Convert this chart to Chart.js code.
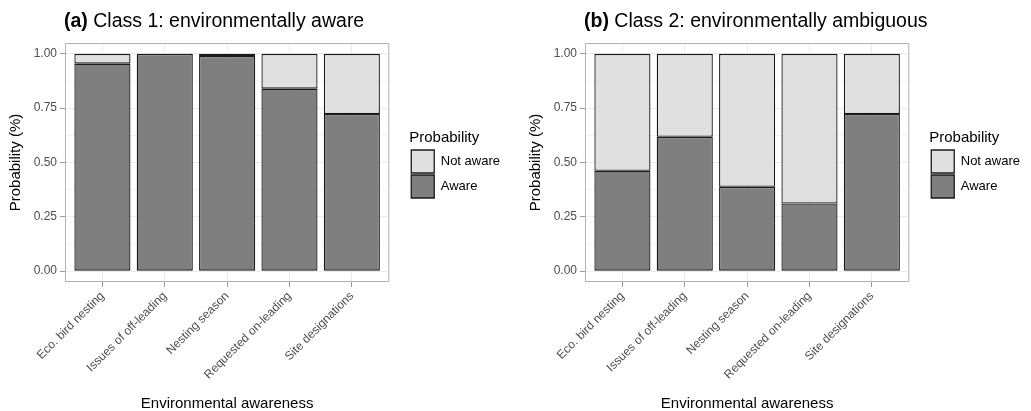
<!DOCTYPE html>
<html lang="en">
<head>
    <meta charset="UTF-8">
    <title>Environmental awareness by class</title>
    <script src="https://cdn.jsdelivr.net/npm/chart.js"></script>
    <style>
        html, body {
            margin: 0;
            padding: 0;
            background: white;
            overflow: hidden;
        }

        .figure {
            position: relative;
            width: 1031px;
            height: 411px;
            font-family: "Liberation Sans", Arial, sans-serif;
        }

        .panel {
            position: absolute;
            top: 0;
            width: 520px;
            height: 411px;
        }

        .panel-title {
            position: absolute;
            top: 8px;
            left: 64px;
            font-size: 19.5px;
            line-height: 24px;
            color: #000;
            white-space: nowrap;
        }

        .panel-title b {
            font-weight: bold;
        }
    </style>
</head>
<body>
    <div class="figure">
        <div class="panel" style="left: 0;">
            <canvas id="classOneChart" width="520" height="411"></canvas>
            <div class="panel-title"><b>(a)</b> Class 1: environmentally aware</div>
        </div>
        <div class="panel" style="left: 520px;">
            <canvas id="classTwoChart" width="520" height="411"></canvas>
            <div class="panel-title"><b>(b)</b> Class 2: environmentally ambiguous</div>
        </div>
    </div>

    <script>
        // data
        const categories = ['Eco. bird nesting', 'Issues of off-leading', 'Nesting season', 'Requested on-leading', 'Site designations'];
        const awareClass1 = [0.955, 1.0, 0.99, 0.84, 0.723];
        const notAwareClass1 = [0.045, 0.0, 0.01, 0.16, 0.277];
        const awareClass2 = [0.462, 0.618, 0.388, 0.311, 0.723];
        const notAwareClass2 = [0.538, 0.382, 0.612, 0.689, 0.277];
        const yMajorTicks = [0, 0.25, 0.5, 0.75, 1];
        const yMinorTicks = [0.125, 0.375, 0.625, 0.875];

        const FONT = '"Liberation Sans", Arial, sans-serif';

        // grey frame round the panel, like theme_bw
        const panelBorder = {
            id: 'panelBorder',
            afterDraw(chart) {
                const a = chart.chartArea;
                const ctx = chart.ctx;
                ctx.save();
                ctx.strokeStyle = '#b3b3b3';
                ctx.lineWidth = 1;
                ctx.strokeRect(a.left + 0.5, a.top + 0.5, a.right - a.left - 1, a.bottom - a.top - 1);
                ctx.restore();
            }
        };

        function makeChart(id, aware, notAware) {
            const toPoints = vals => vals.map((v, i) => ({ x: i + 1, y: v }));
            const isMajor = v => yMajorTicks.includes(v);

            return new Chart(document.getElementById(id), {
                type: 'bar',
                data: {
                    datasets: [{
                        label: 'Aware',
                        data: toPoints(aware),
                        backgroundColor: '#7f7f7f',
                        borderColor: '#1a1a1a',
                        borderWidth: 1.3,
                        borderSkipped: false,
                        barPercentage: 0.9,
                        categoryPercentage: 1
                    }, {
                        label: 'Not aware',
                        data: toPoints(notAware),
                        backgroundColor: '#e0e0e0',
                        borderColor: '#1a1a1a',
                        borderWidth: 1.3,
                        borderSkipped: false,
                        barPercentage: 0.9,
                        categoryPercentage: 1
                    }]
                },
                options: {
                    responsive: false,
                    animation: false,
                    layout: {
                        padding: { top: 43, left: 0, bottom: 0, right: 10 }
                    },
                    plugins: {
                        tooltip: { enabled: false },
                        legend: {
                            position: 'right',
                            align: 'start',
                            reverse: true,
                            maxWidth: 140,
                            labels: {
                                boxWidth: 23,
                                boxHeight: 23,
                                padding: 2,
                                color: '#000',
                                font: { family: FONT, size: 13 }
                            },
                            title: {
                                display: true,
                                text: 'Probability',
                                position: 'start',
                                color: '#000',
                                padding: { top: 87, bottom: 0 },
                                font: { family: FONT, size: 15 }
                            }
                        }
                    },
                    scales: {
                        x: {
                            type: 'linear',
                            stacked: true,
                            offset: false,
                            min: 0.4,
                            max: 5.6,
                            afterBuildTicks: scale => {
                                scale.ticks = categories.map((c, i) => ({ value: i + 1 }));
                            },
                            afterFit: scale => { scale.height = 129; },
                            ticks: {
                                autoSkip: false,
                                minRotation: 45,
                                maxRotation: 45,
                                padding: 2,
                                color: '#4d4d4d',
                                font: { family: FONT, size: 12 },
                                callback: v => categories[v - 1]
                            },
                            grid: {
                                offset: false,
                                color: '#ebebeb',
                                tickColor: '#999',
                                tickLength: 5
                            },
                            border: { display: false },
                            title: {
                                display: true,
                                text: 'Environmental awareness',
                                color: '#000',
                                padding: { top: 0, bottom: 0 },
                                font: { family: FONT, size: 15, lineHeight: 1 }
                            }
                        },
                        y: {
                            stacked: true,
                            min: -0.05,
                            max: 1.05,
                            afterBuildTicks: scale => {
                                scale.ticks = yMajorTicks.concat(yMinorTicks)
                                    .sort((a, b) => a - b)
                                    .map(v => ({ value: v }));
                            },
                            afterFit: scale => { scale.width = 65; },
                            ticks: {
                                padding: 3,
                                color: '#4d4d4d',
                                font: { family: FONT, size: 12 },
                                callback: v => isMajor(v) ? v.toFixed(2) : ''
                            },
                            grid: {
                                color: c => isMajor(c.tick.value) ? '#ebebeb' : '#f4f4f4',
                                tickColor: c => isMajor(c.tick.value) ? '#999' : 'rgba(0,0,0,0)',
                                tickLength: 5
                            },
                            border: { display: false },
                            title: {
                                display: true,
                                text: 'Probability (%)',
                                color: '#000',
                                padding: { top: 7, bottom: 0 },
                                font: { family: FONT, size: 15 }
                            }
                        },
                        // empty strip that keeps the legend off the panel
                        spacer: {
                            type: 'linear',
                            position: 'right',
                            min: 0,
                            max: 1,
                            afterFit: scale => { scale.width = 20; },
                            ticks: { display: false },
                            grid: { display: false, drawTicks: false },
                            border: { display: false }
                        }
                    }
                },
                plugins: [panelBorder]
            });
        }

        makeChart('classOneChart', awareClass1, notAwareClass1);
        makeChart('classTwoChart', awareClass2, notAwareClass2);
    </script>
</body>
</html>
